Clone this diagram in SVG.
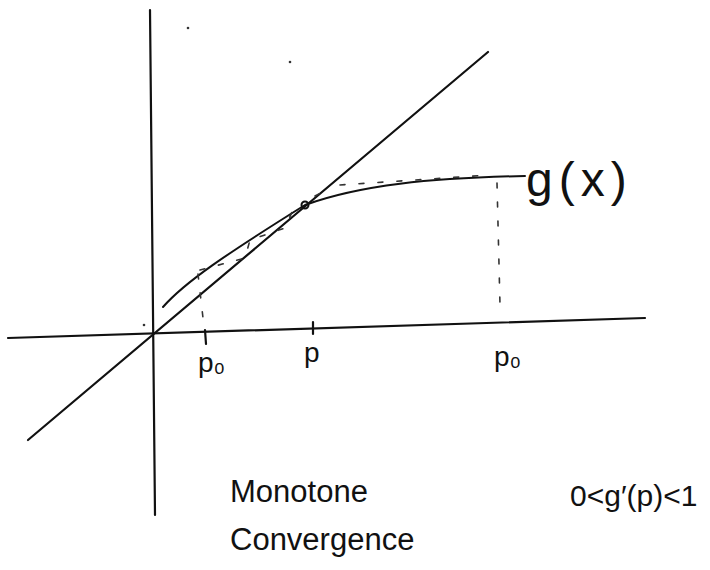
<svg xmlns="http://www.w3.org/2000/svg" width="710" height="570" viewBox="0 0 710 570">
<style>
.ax{stroke:#111;stroke-width:2.2;fill:none;stroke-linecap:round}
.cv{stroke:#111;stroke-width:2;fill:none;stroke-linecap:round}
.ds{stroke:#333;stroke-width:1.6;fill:none;stroke-dasharray:5 14;stroke-linecap:round}
.t{font-family:"Liberation Sans",sans-serif;fill:#111}
</style>
<rect width="710" height="570" fill="#fff"/>
<g id="axes">
<path class="ax" d="M150 10 L155 515"/>
<path class="ax" d="M8 338 L645 318"/>
<path class="ax" d="M28 440 L488 52"/>
</g>
<g id="curve">
<path class="cv" d="M163 307 C185 282 225 255 305 205 C360 185 430 178 525 176"/>
<circle cx="305" cy="205" r="3.5" fill="none" stroke="#111" stroke-width="2"/>
</g>
<g id="connectors">
<path class="ds" d="M198 274 L203 318"/>
<path class="ds" d="M200 270 L245 258 L250 240 L285 228 L292 212"/>
<path class="ds" d="M340 185 L490 175"/>
<path class="ds" d="M497 183 L500 305"/>
<path class="ds" d="M315 196 L330 188"/>
</g>
<g id="ticks">
<path class="ax" d="M205 330 L206 344" stroke-width="1.8"/>
<path class="ax" d="M313 322 L313 334" stroke-width="1.8"/>
</g>
<g id="dots" fill="#333">
<circle cx="188" cy="28" r="1.3"/>
<circle cx="290" cy="62" r="1.3"/>
<circle cx="144" cy="325" r="1.3"/>
</g>
<g id="labels">
<text class="t" x="198" y="372" font-size="28">p₀</text>
<text class="t" x="304" y="362" font-size="28">p</text>
<text class="t" x="494" y="366" font-size="28">p₀</text>
<text class="t" x="526" y="196" font-size="48" letter-spacing="6">g(x)</text>
<text class="t" x="230" y="502" font-size="31">Monotone</text>
<text class="t" x="230" y="550" font-size="31">Convergence</text>
<text class="t" x="570" y="506" font-size="30">0&lt;g′(p)&lt;1</text>
</g>
</svg>
